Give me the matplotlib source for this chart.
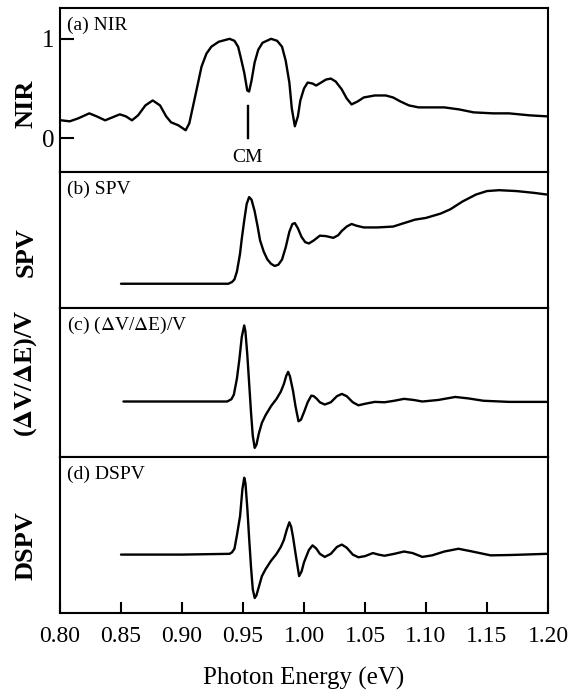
import numpy as np
import matplotlib
matplotlib.use("Agg")
import matplotlib.pyplot as plt

plt.rcParams['font.family'] = ['Liberation Serif', 'DejaVu Serif']
plt.rcParams['mathtext.fontset'] = 'stix'

# (a) normalised infrared reflectance
nir_e = [0.801, 0.808, 0.815, 0.824, 0.830, 0.837, 0.843, 0.849, 0.854, 0.859,
         0.864, 0.870, 0.876, 0.882, 0.887, 0.891, 0.897, 0.903, 0.906, 0.909,
         0.912, 0.916, 0.920, 0.924, 0.930, 0.939, 0.943, 0.946, 0.948, 0.951,
         0.9535, 0.955, 0.957, 0.9595, 0.9625, 0.966, 0.973, 0.978, 0.982, 0.985,
         0.988, 0.990, 0.9925, 0.995, 0.997, 1.000, 1.003, 1.007, 1.010, 1.014,
         1.018, 1.022, 1.026, 1.031, 1.035, 1.039, 1.044, 1.049, 1.058, 1.067,
         1.073, 1.079, 1.086, 1.094, 1.105, 1.115, 1.127, 1.139, 1.155, 1.168,
         1.185, 1.199]
nir_v = [0.18, 0.17, 0.20, 0.25, 0.22, 0.18, 0.21, 0.24, 0.22, 0.18,
         0.23, 0.33, 0.38, 0.33, 0.22, 0.16, 0.13, 0.08, 0.15, 0.32,
         0.49, 0.72, 0.85, 0.92, 0.97, 1.00, 0.98, 0.92, 0.82, 0.66,
         0.48, 0.47, 0.58, 0.76, 0.89, 0.96, 1.00, 0.98, 0.92, 0.78,
         0.56, 0.30, 0.12, 0.22, 0.38, 0.50, 0.56, 0.55, 0.53, 0.56,
         0.59, 0.60, 0.57, 0.49, 0.40, 0.34, 0.37, 0.41, 0.43, 0.43,
         0.41, 0.37, 0.33, 0.31, 0.31, 0.31, 0.29, 0.26, 0.25, 0.25,
         0.23, 0.22]

# (b) surface photovoltage
spv_e = [0.850, 0.900, 0.938, 0.941, 0.943, 0.945, 0.9475, 0.949, 0.951, 0.953,
         0.955, 0.957, 0.9595, 0.962, 0.964, 0.967, 0.970, 0.973, 0.976, 0.979,
         0.982, 0.985, 0.988, 0.9905, 0.9925, 0.995, 0.998, 1.001, 1.004, 1.008,
         1.013, 1.018, 1.024, 1.028, 1.031, 1.035, 1.039, 1.043, 1.049, 1.060,
         1.073, 1.082, 1.091, 1.100, 1.112, 1.120, 1.130, 1.141, 1.150, 1.160,
         1.174, 1.188, 1.199]
spv_v = [0.00, 0.00, 0.00, 0.02, 0.05, 0.14, 0.34, 0.52, 0.73, 0.92,
         1.00, 0.97, 0.84, 0.66, 0.50, 0.37, 0.28, 0.23, 0.205, 0.22,
         0.28, 0.42, 0.60, 0.69, 0.70, 0.64, 0.54, 0.48, 0.465, 0.50,
         0.555, 0.55, 0.53, 0.56, 0.61, 0.66, 0.69, 0.67, 0.65, 0.65,
         0.66, 0.70, 0.74, 0.76, 0.81, 0.86, 0.95, 1.03, 1.07, 1.08,
         1.07, 1.05, 1.03]

# (c) normalised derivative (dV/dE)/V
dv_e = [0.852, 0.900, 0.937, 0.9405, 0.9425, 0.945, 0.947, 0.949, 0.951, 0.952,
        0.9535, 0.955, 0.9566, 0.958, 0.9596, 0.961, 0.963, 0.9655, 0.9685, 0.973,
        0.9775, 0.981, 0.9835, 0.9855, 0.987, 0.9885, 0.991, 0.993, 0.9955, 0.9975,
        1.000, 1.003, 1.006, 1.008, 1.0105, 1.013, 1.017, 1.022, 1.027, 1.031,
        1.035, 1.040, 1.0446, 1.050, 1.058, 1.066, 1.074, 1.082, 1.090, 1.097,
        1.110, 1.124, 1.135, 1.147, 1.168, 1.199]
dv_v = [0.00, 0.00, 0.00, 0.03, 0.09, 0.30, 0.55, 0.85, 1.00, 0.92,
        0.62, 0.25, -0.15, -0.45, -0.61, -0.57, -0.42, -0.28, -0.18, -0.06,
        0.035, 0.13, 0.23, 0.34, 0.39, 0.33, 0.14, -0.06, -0.26, -0.24,
        -0.14, -0.01, 0.077, 0.07, 0.035, -0.01, -0.04, -0.01, 0.07, 0.10,
        0.07, -0.01, -0.05, -0.03, -0.005, -0.01, 0.01, 0.035, 0.02, 0.00,
        0.02, 0.06, 0.04, 0.01, -0.005, -0.005]

# (d) differential SPV
dspv_e = [0.850, 0.900, 0.939, 0.941, 0.943, 0.945, 0.9476, 0.9495, 0.951, 0.952,
          0.9536, 0.955, 0.9566, 0.958, 0.9596, 0.961, 0.963, 0.9655, 0.9685, 0.973,
          0.9775, 0.981, 0.9835, 0.986, 0.988, 0.9895, 0.991, 0.993, 0.996, 0.998,
          1.000, 1.004, 1.007, 1.010, 1.013, 1.017, 1.022, 1.027, 1.031, 1.035,
          1.040, 1.0446, 1.050, 1.0565, 1.061, 1.066, 1.074, 1.082, 1.089, 1.097,
          1.105, 1.115, 1.1266, 1.138, 1.153, 1.170, 1.199]
dspv_v = [0.00, 0.00, 0.01, 0.03, 0.076, 0.25, 0.50, 0.85, 1.00, 0.93,
          0.59, 0.22, -0.17, -0.45, -0.565, -0.53, -0.42, -0.28, -0.19, -0.08,
          0.01, 0.10, 0.19, 0.33, 0.42, 0.36, 0.23, 0.02, -0.28, -0.22,
          -0.10, 0.06, 0.12, 0.08, 0.01, -0.03, 0.01, 0.10, 0.13, 0.09,
          0.00, -0.035, -0.02, 0.02, 0.00, -0.015, 0.01, 0.04, 0.02, -0.03,
          -0.01, 0.04, 0.076, 0.04, -0.01, -0.005, 0.01]

panels = [
    (nir_e, nir_v, "(a) NIR", "NIR", (-0.34, 1.31), 104),
    (spv_e, spv_v, "(b) SPV", "SPV", (-0.28, 1.29), 252),
    (dv_e, dv_v, r"(c) ($\Delta$V/$\Delta$E)/V", r"($\mathbf{\Delta}$V/$\mathbf{\Delta}$E)/V", (-0.73, 1.23), 373),
    (dspv_e, dspv_v, "(d) DSPV", "DSPV", (-0.76, 1.27), 546),
]

fig = plt.figure(figsize=(5.71, 6.98), dpi=100)
gs = fig.add_gridspec(4, 1, height_ratios=[164, 136, 149, 156], hspace=0,
                      left=60 / 571, right=548 / 571, top=1 - 8 / 698, bottom=1 - 613 / 698)
axes = [fig.add_subplot(gs[i]) for i in range(4)]

for ax, (e, v, tag, ylab, ylim, ypix) in zip(axes, panels):
    ax.plot(e, v, color="black", lw=1.7, solid_joinstyle="round", solid_capstyle="round")
    ax.set_xlim(0.80, 1.20)
    ax.set_ylim(*ylim)
    for s in ax.spines.values():
        s.set_linewidth(1.5)
    ax.tick_params(axis="both", direction="in", width=1.5, length=8,
                   labelsize=17, top=False, right=False)
    ax.set_xticks(np.arange(0.80, 1.201, 0.05))
    ax.set_yticks([])
    ax.annotate(tag, xy=(0, 1), xycoords="axes fraction", xytext=(7, -17),
                textcoords="offset pixels", fontsize=14, va="center", ha="left")
    fig.text(26 / 571, 1 - ypix / 698, ylab, rotation=90, fontsize=19,
             fontweight="bold", ha="center", va="center")
    if ax is not axes[-1]:
        ax.tick_params(axis="x", labelbottom=False, length=0)

# NIR axis carries the only y ticks
axes[0].set_yticks([0, 1])
axes[0].set_yticklabels(["0", "1"])
axes[0].tick_params(axis="y", length=10, labelsize=18, pad=4)

# marker for the cavity mode
axes[0].plot([0.954, 0.954], [0.0, 0.32], color="black", lw=1.7)
axes[0].text(0.954, -0.19, "CM", fontsize=14, ha="center", va="center")

axes[-1].set_xticklabels(["%.2f" % t for t in np.arange(0.80, 1.201, 0.05)])
axes[-1].tick_params(axis="x", pad=9)
axes[-1].set_xlabel("Photon Energy (eV)", fontsize=18, labelpad=15)

fig.savefig("out.png", dpi=100)
